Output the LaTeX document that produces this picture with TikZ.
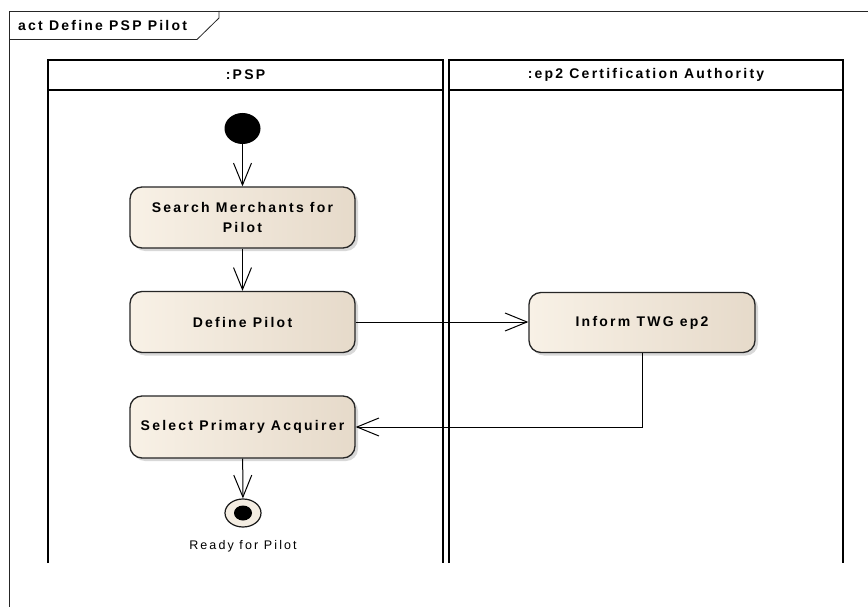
\documentclass[tikz,border=0pt]{standalone}
\usepackage{fontspec}
\setmainfont{Liberation Sans}
\newfontfamily\umlfont[LetterSpace=16]{Liberation Sans}
\newfontfamily\labelfont[LetterSpace=17]{Liberation Sans}
\usetikzlibrary{arrows.meta,shadows,shapes.geometric}
\definecolor{creamL}{HTML}{F8F1E6}
\definecolor{creamR}{HTML}{E6DACA}
\definecolor{creamF}{HTML}{F4EDE2}
\begin{document}
\begin{tikzpicture}[x=1pt,y=-1pt,
  action/.style={draw=black!85, line width=1.3pt, rounded corners=12pt,
    minimum width=225pt, minimum height=61pt, inner sep=0pt,
    left color=creamL, right color=creamR, align=center,
    font=\umlfont\bfseries\fontsize{14}{20}\selectfont,
    drop shadow={shadow xshift=3pt, shadow yshift=-3pt, fill=black!30}},
  flow/.style={line width=1pt, -{Straight Barb[length=22pt,width=18pt,line width=1pt]}},
  lane/.style={line width=1.6pt},
  heading/.style={font=\umlfont\bfseries\fontsize{14}{16}\selectfont, inner sep=0pt},
  frameline/.style={line width=0.8pt, black!85}
]
\useasboundingbox (0,0) rectangle (868,607);
\fill[white] (0,0) rectangle (868,607);

% diagram frame with its name tab
\draw[frameline] (9,607) -- (9,11) -- (868,11);
\draw[frameline] (9,39.5) -- (197,39.5) -- (219,18) -- (219,11);
\node[heading, anchor=west] (frametitle) at (18,25.5) {act Define PSP Pilot};

% swimlanes
\draw[lane] (48,563) -- (48,60) -- (443,60) -- (443,563);
\draw[lane] (48,90) -- (443,90);
\node[heading] (psphead) at (245.5,75) {:PSP};
\draw[lane] (449,563) -- (449,60) -- (843,60) -- (843,563);
\draw[lane] (449,90) -- (843,90);
\node[heading] (cahead) at (646,75) {:ep2 Certification Authority};

% nodes
\node[ellipse, fill=black, minimum width=36pt, minimum height=31pt, inner sep=0pt] (start) at (242.5,128.5) {};
\node[action] (search) at (242.5,217.5) {Search Merchants for\\Pilot};
\node[action] (define) at (242.5,322) {Define Pilot};
\node[action, minimum width=226pt, minimum height=60pt] (inform) at (642,322.5) {Inform TWG ep2};
\node[action, minimum height=62pt] (select) at (242.5,427) {Select Primary Acquirer};
\node[ellipse, draw=black!90, line width=1.2pt, fill=creamF, minimum width=36pt, minimum height=28pt, inner sep=0pt] (final) at (243,513) {};
\node[ellipse, fill=black, minimum width=18pt, minimum height=15pt, inner sep=0pt] (finaldot) at (final) {};
\node[font=\labelfont\fontsize{12.5}{14}\selectfont, inner sep=0pt] (finallabel) at (243,546) {Ready for Pilot};

% control flows
\draw[flow] (start) -- (search);
\draw[flow] (search) -- (define);
\draw[flow] (define.east) -- (define.east -| inform.west);
\draw[flow] (inform.south) |- (select.east);
\draw[flow] (select) -- (final);
\end{tikzpicture}
\end{document}
